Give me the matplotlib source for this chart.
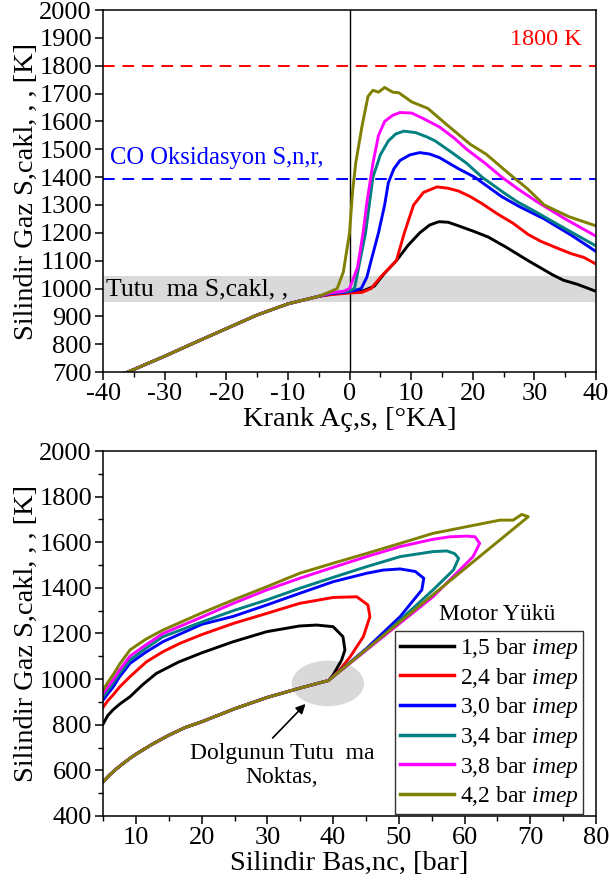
import matplotlib
matplotlib.use("Agg")
import matplotlib.pyplot as plt
from matplotlib.patches import Ellipse
from matplotlib.ticker import MultipleLocator

plt.rcParams['font.family'] = ['Liberation Serif', 'DejaVu Serif']
plt.rcParams['mathtext.fontset'] = 'custom'
plt.rcParams['mathtext.it'] = 'Liberation Serif:italic'
plt.rcParams['mathtext.rm'] = 'Liberation Serif'
plt.rcParams['axes.unicode_minus'] = False

# --- data: crank angle vs temperature (top) ---
ca_comp = [-40, -36, -30, -25, -20, -15, -10, -5]
T_comp = [665, 700, 757, 807, 856, 905, 945, 972]

ca_15 = [-3, -1, 0, 2, 4, 5.5, 7.6, 9.5, 11.4, 13, 14.5, 16, 17.7, 20.2, 22.5, 25.3, 29, 32.9, 34.7, 37, 40]
T_15 = [980, 985, 987, 990, 1008, 1050, 1100, 1155, 1200, 1228, 1240, 1238, 1225, 1205, 1185, 1150, 1100, 1050, 1030, 1015, 990]

ca_24 = [-3, -1, 0, 2, 3.5, 5, 6.5, 7.6, 8.9, 10.4, 12, 14.2, 16, 17.7, 19.6, 21.5, 24, 26.5, 29, 31, 33.5, 36, 38, 40]
T_24 = [978, 982, 984, 986, 1000, 1040, 1075, 1100, 1200, 1300, 1345, 1365, 1360, 1350, 1330, 1305, 1268, 1235, 1194, 1170, 1147, 1125, 1112, 1088]

ca_30 = [-3, -1, 0, 1, 1.9, 2.8, 3.5, 4.7, 5.7, 6.3, 7.2, 8.2, 9.8, 11.4, 13, 14.6, 17.7, 20.3, 22.5, 24.7, 27.5, 31.6, 36.1, 40]
T_30 = [982, 986, 989, 994, 1000, 1040, 1100, 1200, 1300, 1380, 1430, 1460, 1480, 1488, 1483, 1470, 1430, 1400, 1365, 1330, 1295, 1250, 1190, 1133]

ca_34 = [-3, -1, 0, 0.8, 1.7, 2.6, 3.2, 3.8, 5, 6.3, 7.5, 8.8, 10.7, 12.5, 13.9, 16.5, 19, 21.5, 25.3, 27.2, 30, 35, 40]
T_34 = [984, 988, 992, 1000, 1100, 1200, 1300, 1400, 1480, 1530, 1555, 1565, 1560, 1545, 1530, 1490, 1450, 1400, 1340, 1312, 1278, 1215, 1153]

ca_38 = [-3, -1, 0, 1.3, 2.2, 2.8, 3.8, 4.7, 5.7, 7, 8.2, 10.1, 12, 14.6, 17, 19, 22, 24.7, 27.5, 30.4, 35, 40]
T_38 = [985, 990, 1000, 1076, 1200, 1306, 1450, 1550, 1600, 1622, 1632, 1630, 1610, 1580, 1540, 1500, 1450, 1400, 1355, 1312, 1250, 1188]

ca_42 = [-3, -2, -1, 0, 0.5, 1, 2, 3, 3.8, 4.7, 5.7, 7, 8, 10.1, 12.7, 15.8, 19.6, 22.2, 25.9, 28.8, 31.6, 35.6, 40]
T_42 = [990, 1000, 1060, 1200, 1350, 1450, 1580, 1690, 1712, 1705, 1722, 1705, 1703, 1670, 1647, 1588, 1518, 1482, 1412, 1360, 1300, 1258, 1225]

# --- data: pressure vs temperature (bottom) ---
P_comp = [5, 6, 7, 8, 9, 10, 12.5, 15, 17.5, 20, 25, 30, 35, 39.3]
Tp_comp = [550, 580, 606, 629, 651, 671, 715, 754, 788, 813, 870, 920, 961, 994]

P_15 = [40.0, 41.3, 41.8, 41.5, 40.0, 37.5, 34.9, 29.9, 24.8, 20.0, 16.5, 13.1, 11.0, 9.1, 7.5, 6.5, 5.7, 5.0]
Tp_15 = [1018, 1084, 1128, 1186, 1230, 1237, 1233, 1208, 1164, 1115, 1075, 1025, 975, 923, 890, 865, 840, 803]

P_24 = [41.0, 42.6, 44.6, 45.6, 45.3, 43.6, 40.0, 34.9, 29.9, 24.8, 20.0, 16.7, 14.1, 11.6, 9.1, 7.5, 6.5, 5.7, 5.0]
Tp_24 = [1040, 1098, 1186, 1274, 1325, 1361, 1358, 1332, 1288, 1244, 1195, 1157, 1120, 1076, 1011, 965, 930, 905, 876]

P_30 = [45.1, 50.2, 53.5, 53.8, 52.5, 50.2, 47.6, 45.1, 40.0, 34.9, 29.9, 24.8, 20.0, 14.1, 11.5, 9.1, 7.5, 6.5, 5.7, 5.0]
Tp_30 = [1135, 1274, 1391, 1442, 1472, 1483, 1478, 1464, 1427, 1376, 1325, 1275, 1240, 1164, 1118, 1069, 1010, 964, 935, 908]

P_34 = [47.0, 55.2, 58.3, 59.1, 58.5, 57.3, 55.2, 50.2, 45.1, 40.0, 34.9, 29.9, 24.8, 20.0, 14.1, 11.5, 9.1, 7.5, 6.5, 5.7, 5.0]
Tp_34 = [1175, 1391, 1478, 1529, 1550, 1562, 1559, 1537, 1493, 1446, 1398, 1347, 1300, 1250, 1186, 1135, 1084, 1025, 982, 950, 923]

P_38 = [45.1, 55.2, 61.3, 62.3, 61.6, 60.3, 57.8, 55.2, 50.2, 45.1, 40.0, 34.9, 29.9, 24.8, 19.7, 14.1, 11.5, 9.1, 7.5, 6.5, 5.7, 5.0]
Tp_38 = [1128, 1361, 1537, 1595, 1624, 1627, 1624, 1613, 1581, 1537, 1490, 1442, 1391, 1332, 1268, 1200, 1150, 1101, 1040, 996, 965, 938]

P_42 = [55.2, 69.7, 68.7, 67.4, 65.4, 62.9, 60.3, 55.2, 50.2, 45.1, 40.0, 34.9, 29.9, 24.8, 20.0, 14.1, 11.5, 9.1, 7.5, 6.5, 5.7, 5.0]
Tp_42 = [1370, 1712, 1722, 1697, 1697, 1683, 1668, 1639, 1595, 1551, 1508, 1464, 1405, 1347, 1290, 1215, 1175, 1128, 1065, 1018, 985, 952]

labels = ['1,5', '2,4', '3,0', '3,4', '3,8', '4,2']
colors = ['black', '#ff0000', '#0000ff', '#008080', '#ff00ff', '#808000']

top_sets = [(ca_15, T_15), (ca_24, T_24), (ca_30, T_30), (ca_34, T_34), (ca_38, T_38), (ca_42, T_42)]
bot_sets = [(P_15, Tp_15), (P_24, Tp_24), (P_30, Tp_30), (P_34, Tp_34), (P_38, Tp_38), (P_42, Tp_42)]

fig = plt.figure(figsize=(6.1, 8.88), dpi=100)
ax1 = fig.add_axes([0.169, 0.581, 0.808, 0.4077])
ax2 = fig.add_axes([0.169, 0.0811, 0.808, 0.411])

# top chart
ax1.axhspan(952, 1044, color='#d9d9d9', lw=0, zorder=0)
ax1.axvline(0, color='black', lw=1.0, zorder=1)
ax1.axhline(1800, color='#ff0000', lw=1.4, dashes=(6, 4), zorder=1)
ax1.axhline(1395, color='#0000ff', lw=1.4, dashes=(6, 4), zorder=1)
for (ca, T), c in zip(top_sets, colors):
    ax1.plot(ca_comp + ca, T_comp + T, color=c, lw=2.1, zorder=2)

ax1.text(37.7, 1895, '1800 K', color='#ff0000', fontsize=17.5, ha='right', va='center')
ax1.text(-38.9, 1470, 'CO Oksidasyon S,n,r,', color='#0000ff', fontsize=17.75, ha='left', va='center')
ax1.text(-39.6, 996, 'Tutu  ma S,cakl, ,', color='black', fontsize=18.5, ha='left', va='center')

ax1.set_xlim(-40, 40)
ax1.set_ylim(700, 2000)
ax1.xaxis.set_major_locator(MultipleLocator(10))
ax1.xaxis.set_minor_locator(MultipleLocator(5))
ax1.yaxis.set_major_locator(MultipleLocator(100))
ax1.set_xlabel('Krank Aç,s, [°KA]', fontsize=20.5, labelpad=1)
ax1.set_ylabel('Silindir Gaz S,cakl, , , [K]', fontsize=20.5, labelpad=0.5)

# bottom chart
ax2.add_patch(Ellipse((39.2, 981), 11, 200, color='#d9d9d9', lw=0, zorder=0))
for (P, T), c, lab in zip(bot_sets, colors, labels):
    ax2.plot(P_comp + P, Tp_comp + T, color=c, lw=2.1, zorder=2, label=lab + ' bar $imep$')

ax2.annotate('', xy=(36.1, 900), xytext=(30.5, 733),
             arrowprops=dict(arrowstyle='-|>', color='black', lw=1.2, mutation_scale=14))
ax2.text(32.2, 720, 'Dolgunun Tutu  ma\nNoktas,', fontsize=17, ha='center', va='top',
         linespacing=1.2)

leg = ax2.legend(loc='lower right', bbox_to_anchor=(0.974, 0.005), borderaxespad=0,
                 fontsize=17, frameon=True, fancybox=False, edgecolor='black',
                 handlelength=2.3, handletextpad=0.25, labelspacing=0.2, borderpad=0.2)
leg.get_frame().set_linewidth(1.0)
for line in leg.get_lines():
    line.set_linewidth(2.5)
ax2.text(0.80, 0.552, 'Motor Yükü', transform=ax2.transAxes, fontsize=17, ha='center', va='center')

ax2.set_xlim(5, 80)
ax2.set_ylim(400, 2000)
ax2.xaxis.set_major_locator(MultipleLocator(10))
ax2.xaxis.set_minor_locator(MultipleLocator(5))
ax2.yaxis.set_major_locator(MultipleLocator(200))
ax2.yaxis.set_minor_locator(MultipleLocator(100))
ax2.set_xlabel('Silindir Bas,nc, [bar]', fontsize=20.5, labelpad=1)
ax2.set_ylabel('Silindir Gaz S,cakl, , , [K]', fontsize=20.5, labelpad=0.5)

for ax in (ax1, ax2):
    ax.tick_params(axis='both', which='major', direction='out', length=6, width=1.1, labelsize=19, pad=2)
    ax.tick_params(axis='both', which='minor', direction='out', length=3.5, width=1.0)
    for s in ax.spines.values():
        s.set_linewidth(1.1)

fig.savefig('out.png', dpi=100)
